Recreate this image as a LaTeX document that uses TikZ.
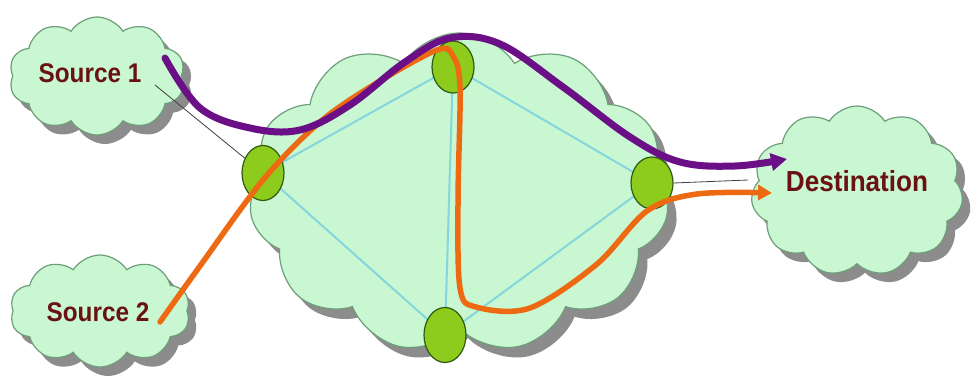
\documentclass[tikz,border=0pt]{standalone}
\usepackage{fontspec}
\newfontfamily\lblfont{Liberation Sans}[FakeStretch=0.9]
\usetikzlibrary{shapes.symbols,shapes.geometric,arrows.meta}
\definecolor{cloudfill}{HTML}{C8F7D2}
\definecolor{cloudedge}{HTML}{6E9E7A}
\definecolor{shadowgray}{HTML}{8C8C8C}
\definecolor{routerfill}{HTML}{8DCB1C}
\definecolor{routeredge}{HTML}{2F5A12}
\definecolor{linkcyan}{HTML}{84D6DC}
\definecolor{txtred}{HTML}{6A1212}
\definecolor{pathpurple}{HTML}{6B0F86}
\definecolor{pathorange}{HTML}{EE6A12}
\tikzset{
  cloudbox/.style={cloud, cloud puffs=#1, cloud puff arc=115, aspect=1.5, fill=cloudfill, draw=cloudedge, line width=1.2pt, inner sep=0pt},
  cloudshadow/.style={cloud, cloud puffs=#1, cloud puff arc=115, aspect=1.5, fill=shadowgray, draw=none, inner sep=0pt},
  router/.style={ellipse, fill=routerfill, draw=routeredge, line width=1.2pt, minimum width=42pt, minimum height=55pt, inner sep=0pt},
  link/.style={linkcyan, line width=2pt},
  wire/.style={black!75, line width=0.8pt},
  label/.style={font=\lblfont\bfseries\fontsize{27}{27}\selectfont, text=txtred, inner sep=0pt},
  flowP/.style={pathpurple, line width=7pt, line cap=round, -{Triangle[length=16pt,width=17pt]}},
  flowO/.style={pathorange, line width=5.5pt, line cap=round, -{Triangle[length=14pt,width=15pt]}}
}
\begin{document}
\begin{tikzpicture}[x=1pt,y=-1pt]
\useasboundingbox (0,0) rectangle (976,387);
\fill[white] (0,0) rectangle (976,387);
% shadows
\node[cloudshadow=10, minimum width=176pt, minimum height=118pt] at (105,85) {};
\node[cloudshadow=10, minimum width=180pt, minimum height=112pt] at (108,320) {};
\node[cloudshadow=11, minimum width=212pt, minimum height=170pt] at (865,200) {};
\node[cloudshadow=11, minimum width=420pt, minimum height=320pt] at (468,203) {};
% clouds
\node[cloudbox=10, minimum width=176pt, minimum height=118pt] (c1) at (97,76) {};
\node[cloudbox=10, minimum width=180pt, minimum height=112pt] (c2) at (100,311) {};
\node[cloudbox=11, minimum width=212pt, minimum height=170pt] (cd) at (857,191) {};
\node[cloudbox=11, minimum width=420pt, minimum height=320pt] (cn) at (459,193) {};
% labels
\node[label] (s1) at (90,73) {Source 1};
\node[label] (s2) at (98,312) {Source 2};
\node[label, font=\lblfont\bfseries\fontsize{29}{29}\selectfont] (dst) at (857,181) {Destination};
% routers
\coordinate (pl) at (263,173);
\coordinate (pt) at (453,67);
\coordinate (pr) at (652,183);
\coordinate (pb) at (445,335);
\draw[link] (pl) -- (pt) -- (pr) -- (pb) -- (pl);
\draw[link] (pt) -- (pb);
\node[router] (rl) at (pl) {};
\node[router, minimum height=52pt] (rt) at (pt) {};
\node[router, minimum height=52pt] (rr) at (pr) {};
\node[router] (rb) at (pb) {};
% thin access wires
\coordinate (w1) at (155,85);
\coordinate (w2) at (748,180);
\draw[wire] (w1) -- (rl);
\draw[wire] (rr.east) -- (w2);
% flows
\coordinate (o1) at (160,322);
\coordinate (o2) at (772,193);
\coordinate (p1) at (165,58);
\coordinate (p2) at (787,159);
\draw[flowO] plot[smooth, tension=0.55] coordinates {(o1) (200,266) (263,180) (320,122) (375,84) (437,50) (453,56) (460,88) (458,200) (460,288) (476,307) (530,308) (597,264) (647,211) (697,194) (o2)};
\draw[flowP] plot[smooth, tension=0.6] coordinates {(p1) (200,108) (250,128) (300,130) (350,105) (405,62) (450,38) (500,44) (563,87) (630,137) (680,162) (735,166) (p2)};
\end{tikzpicture}
\end{document}
